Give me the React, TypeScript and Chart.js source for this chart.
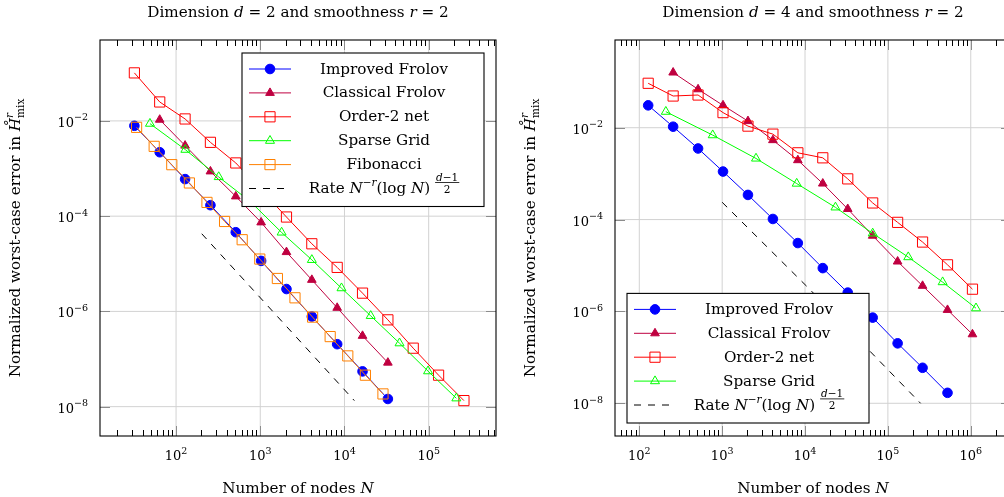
import React, { useEffect, useRef } from "react";
import { Chart, registerables } from "chart.js";
Chart.register(...registerables);

// ---------------- Data: dimension d = 2 ----------------
const d2ImprovedN = [32, 64, 128, 256, 512, 1024, 2048, 4096, 8192, 16384, 32768];
const d2ImprovedErr = [7.9e-3, 2.2e-3, 6.0e-4, 1.7e-4, 4.6e-5, 1.15e-5, 2.95e-6, 7.8e-7, 2.05e-7, 5.5e-8, 1.45e-8];
const d2ClassicalN = [64, 128, 256, 512, 1024, 2048, 4096, 8192, 16384, 32768];
const d2ClassicalErr = [1.06e-2, 3.03e-3, 8.7e-4, 2.6e-4, 7.4e-5, 1.76e-5, 4.6e-6, 1.19e-6, 3.07e-7, 8.4e-8];
const d2Order2N = [32, 64, 128, 256, 512, 1024, 2048, 4096, 8192, 16384, 32768, 65536, 131072, 262144];
const d2Order2Err = [0.102, 2.5e-2, 1.1e-2, 3.55e-3, 1.31e-3, 3.55e-4, 9.6e-5, 2.63e-5, 8.4e-6, 2.42e-6, 6.65e-7, 1.69e-7, 4.58e-8, 1.34e-8];
const d2SparseN = [49, 129, 321, 769, 1793, 4097, 9217, 20481, 45057, 98305, 212993];
const d2SparseErr = [8.77e-3, 2.49e-3, 6.65e-4, 2.0e-4, 4.55e-5, 1.21e-5, 3.08e-6, 8.07e-7, 2.15e-7, 5.56e-8, 1.5e-8];
const d2FibN = [34, 55, 89, 144, 233, 377, 610, 987, 1597, 2584, 4181, 6765, 10946, 17711, 28657];
const d2FibErr = [7.33e-3, 2.92e-3, 1.205e-3, 4.98e-4, 1.945e-4, 7.74e-5, 3.2e-5, 1.256e-5, 4.91e-6, 1.93e-6, 7.59e-7, 2.96e-7, 1.164e-7, 4.58e-8, 1.85e-8];
const d2RateN = [202, 13100];
const d2RateErr = [4.27e-5, 1.34e-8];
const d2XRange = [12.5, 6.3e5];
const d2YRange = [2.42e-9, 0.5];
const d2XTickExp = [2, 3, 4, 5];
const d2YTickExp = [-8, -6, -4, -2];

// ---------------- Data: dimension d = 4 ----------------
const d4ImprovedN = [128, 256, 512, 1024, 2048, 4096, 8192, 16384, 32768, 65536, 131072, 262144, 524288];
const d4ImprovedErr = [3.07e-2, 1.052e-2, 3.53e-3, 1.11e-3, 3.44e-4, 1.03e-4, 3.08e-5, 8.77e-6, 2.57e-6, 7.33e-7, 2.02e-7, 5.93e-8, 1.69e-8];
const d4ClassicalN = [256, 512, 1024, 2048, 4096, 8192, 16384, 32768, 65536, 131072, 262144, 524288, 1048576];
const d4ClassicalErr = [0.159, 6.86e-2, 3.07e-2, 1.393e-2, 5.36e-3, 1.963e-3, 6.08e-4, 1.7e-4, 4.45e-5, 1.22e-5, 3.61e-6, 1.079e-6, 3.18e-7];
const d4Order2N = [128, 256, 512, 1024, 2048, 4096, 8192, 16384, 32768, 65536, 131072, 262144, 524288, 1048576];
const d4Order2Err = [9.27e-2, 4.9e-2, 5.15e-2, 2.13e-2, 1.084e-2, 7.24e-3, 2.84e-3, 2.21e-3, 7.69e-4, 2.3e-4, 8.69e-5, 3.24e-5, 1.035e-5, 3.05e-6];
const d4SparseN = [209, 769, 2561, 7937, 23297, 65537, 176129, 457729, 1157121];
const d4SparseErr = [2.234e-2, 6.89e-3, 2.14e-3, 6.08e-4, 1.845e-4, 5.01e-5, 1.524e-5, 4.35e-6, 1.175e-6];
const d4RateN = [1000, 11100, 248000];
const d4RateErr = [2.38e-4, 3.18e-6, 1.0e-8];
const d4XRange = [50.9, 3.06e6];
const d4YRange = [1.94e-9, 0.812];
const d4XTickExp = [2, 3, 4, 5, 6];
const d4YTickExp = [-8, -6, -4, -2];

const seriesNames = ["Improved Frolov", "Classical Frolov", "Order-2 net", "Sparse Grid", "Fibonacci"];
const smoothness = 2;
const minorMultipliers = [2, 3, 4, 5, 6, 7, 8, 9];

// ---------------- Styles ----------------
type Style = { color: string; point: "circle" | "triangle" | "rect"; r: number; fill: boolean };
const STY: Record<string, Style> = {
  improved: { color: "#0000ff", point: "circle", r: 4.8, fill: true },
  classical: { color: "rgb(191,0,64)", point: "triangle", r: 5, fill: true },
  order2: { color: "#ff0000", point: "rect", r: 7.2, fill: false },
  sparse: { color: "#00ff00", point: "triangle", r: 5.2, fill: false },
  fib: { color: "rgb(255,128,0)", point: "rect", r: 7.2, fill: false },
};
const GRID = "#d2d2d2";
const FONT = '"DejaVu Serif", "Liberation Serif", serif';
const F = (s: number, it = false) => `${it ? "italic " : ""}${s}px ${FONT}`;
const TXT = 15.2;

type Run = { t?: string; f?: string; dy?: number; hold?: boolean; frac?: { num: Run[]; den: Run[] } };

function runW(ctx: CanvasRenderingContext2D, runs: Run[]): number {
  let x = 0, mx = 0;
  for (const r of runs) {
    let w = 0;
    if (r.frac) w = Math.max(runW(ctx, r.frac.num), runW(ctx, r.frac.den)) + 2;
    else { ctx.font = r.f!; w = ctx.measureText(r.t!).width; }
    mx = Math.max(mx, x + w);
    if (!r.hold) x += w;
  }
  return Math.max(x, mx);
}

function drawRuns(ctx: CanvasRenderingContext2D, runs: Run[], x: number, y: number, align: "left" | "center" | "right" = "left") {
  const W = runW(ctx, runs);
  if (align === "center") x -= W / 2;
  else if (align === "right") x -= W;
  for (const r of runs) {
    ctx.textAlign = "left";
    ctx.textBaseline = "alphabetic";
    let w = 0;
    if (r.frac) {
      const nw = runW(ctx, r.frac.num), dw = runW(ctx, r.frac.den);
      w = Math.max(nw, dw) + 2;
      drawRuns(ctx, r.frac.num, x + (w - nw) / 2, y - 12.5);
      drawRuns(ctx, r.frac.den, x + (w - dw) / 2, y - 0.5);
      ctx.fillRect(x, y - 11, w, 0.8);
    } else {
      ctx.font = r.f!;
      ctx.fillText(r.t!, x, y + (r.dy || 0));
      w = ctx.measureText(r.t!).width;
    }
    if (!r.hold) x += w;
  }
}

function drawMarker(ctx: CanvasRenderingContext2D, st: Style, x: number, y: number) {
  ctx.beginPath();
  const r = st.r;
  if (st.point === "circle") ctx.arc(x, y, r, 0, Math.PI * 2);
  else if (st.point === "triangle") {
    ctx.moveTo(x, y - r);
    ctx.lineTo(x + r * Math.sin((2 * Math.PI) / 3), y - r * Math.cos((2 * Math.PI) / 3));
    ctx.lineTo(x + r * Math.sin((4 * Math.PI) / 3), y - r * Math.cos((4 * Math.PI) / 3));
    ctx.closePath();
  } else {
    const s = r * Math.SQRT1_2;
    ctx.rect(x - s, y - s, 2 * s, 2 * s);
  }
  if (st.fill) { ctx.fillStyle = st.color; ctx.fill(); }
  ctx.strokeStyle = st.color;
  ctx.lineWidth = 1;
  ctx.stroke();
}

const expLabel = (e: number) => (e < 0 ? "\u2212" + Math.abs(e) : String(e));

type Panel = {
  dim: number;
  xRange: number[];
  yRange: number[];
  xTickExp: number[];
  yTickExp: number[];
  series: { name: string; n: number[]; err: number[]; st: Style }[];
  rateN: number[];
  rateErr: number[];
  legendPos: "ne" | "sw";
};

const panelD2: Panel = {
  dim: 2, xRange: d2XRange, yRange: d2YRange, xTickExp: d2XTickExp, yTickExp: d2YTickExp,
  series: [
    { name: seriesNames[0], n: d2ImprovedN, err: d2ImprovedErr, st: STY.improved },
    { name: seriesNames[1], n: d2ClassicalN, err: d2ClassicalErr, st: STY.classical },
    { name: seriesNames[2], n: d2Order2N, err: d2Order2Err, st: STY.order2 },
    { name: seriesNames[3], n: d2SparseN, err: d2SparseErr, st: STY.sparse },
    { name: seriesNames[4], n: d2FibN, err: d2FibErr, st: STY.fib },
  ],
  rateN: d2RateN, rateErr: d2RateErr, legendPos: "ne",
};
const panelD4: Panel = {
  dim: 4, xRange: d4XRange, yRange: d4YRange, xTickExp: d4XTickExp, yTickExp: d4YTickExp,
  series: [
    { name: seriesNames[0], n: d4ImprovedN, err: d4ImprovedErr, st: STY.improved },
    { name: seriesNames[1], n: d4ClassicalN, err: d4ClassicalErr, st: STY.classical },
    { name: seriesNames[2], n: d4Order2N, err: d4Order2Err, st: STY.order2 },
    { name: seriesNames[3], n: d4SparseN, err: d4SparseErr, st: STY.sparse },
  ],
  rateN: d4RateN, rateErr: d4RateErr, legendPos: "sw",
};

function makePlugin(p: Panel) {
  return {
    id: "panelDeco",
    beforeDatasetsDraw(chart: any) {
      const { ctx, chartArea: a, scales } = chart;
      ctx.save();
      ctx.strokeStyle = GRID;
      ctx.lineWidth = 1;
      for (const e of p.xTickExp) {
        const x = scales.x.getPixelForValue(Math.pow(10, e));
        ctx.beginPath(); ctx.moveTo(x, a.top); ctx.lineTo(x, a.bottom); ctx.stroke();
      }
      for (const e of p.yTickExp) {
        const y = scales.y.getPixelForValue(Math.pow(10, e));
        ctx.beginPath(); ctx.moveTo(a.left, y); ctx.lineTo(a.right, y); ctx.stroke();
      }
      ctx.restore();
    },
    afterDraw(chart: any) {
      const { ctx, chartArea: a, scales } = chart;
      const sx = scales.x, sy = scales.y;
      ctx.save();
      ctx.setLineDash([]);
      // minor x ticks (2..9 times each decade)
      const k0 = Math.floor(Math.log10(p.xRange[0]));
      const k1 = Math.ceil(Math.log10(p.xRange[1]));
      ctx.fillStyle = "#000";
      for (let k = k0; k <= k1; k++) {
        for (const m of minorMultipliers) {
          const v = m * Math.pow(10, k);
          if (v <= p.xRange[0] || v >= p.xRange[1]) continue;
          const x = Math.round(sx.getPixelForValue(v));
          ctx.fillRect(x, a.bottom - 6, 1, 6);
          ctx.fillRect(x, a.top, 1, 6);
        }
      }
      // major ticks
      ctx.fillStyle = "#8c8c8c";
      for (const e of p.xTickExp) {
        const x = Math.round(sx.getPixelForValue(Math.pow(10, e)));
        ctx.fillRect(x, a.bottom - 10, 1, 10);
        ctx.fillRect(x, a.top, 1, 10);
      }
      for (const e of p.yTickExp) {
        const y = Math.round(sy.getPixelForValue(Math.pow(10, e)));
        ctx.fillRect(a.left, y, 10, 1);
        ctx.fillRect(a.right - 10, y, 10, 1);
      }
      // frame
      ctx.strokeStyle = "#000";
      ctx.lineWidth = 1.1;
      ctx.strokeRect(a.left, a.top, a.right - a.left, a.bottom - a.top);

      // legend
      const rows = p.series.length + 1;
      const bw = 242, rowH = 23.9;
      const bh = 16 + (rows - 1) * rowH + 18;
      const bx = p.legendPos === "ne" ? a.right - 12 - bw : a.left + 12;
      const by = p.legendPos === "ne" ? a.top + 13 : a.bottom - 13 - bh;
      ctx.fillStyle = "#fff";
      ctx.fillRect(bx, by, bw, bh);
      ctx.strokeStyle = "#000";
      ctx.lineWidth = 1.1;
      ctx.strokeRect(bx, by, bw, bh);
      ctx.fillStyle = "#000";
      p.series.forEach((s, i) => {
        const y = by + 16 + i * rowH;
        ctx.strokeStyle = s.st.color;
        ctx.lineWidth = 1;
        ctx.beginPath(); ctx.moveTo(bx + 7, y); ctx.lineTo(bx + 49, y); ctx.stroke();
        drawMarker(ctx, s.st, bx + 28, y);
        ctx.fillStyle = "#000";
        drawRuns(ctx, [{ t: s.name, f: F(TXT) }], bx + 142, y + 4.5, "center");
      });
      {
        const y = by + 16 + p.series.length * rowH;
        ctx.strokeStyle = "#000";
        ctx.lineWidth = 1;
        ctx.setLineDash([7, 7]);
        ctx.beginPath(); ctx.moveTo(bx + 7, y); ctx.lineTo(bx + 45, y); ctx.stroke();
        ctx.setLineDash([]);
        ctx.fillStyle = "#000";
        drawRuns(ctx, [
          { t: "Rate ", f: F(TXT) },
          { t: "N", f: F(TXT, true) },
          { t: "\u2212", f: F(10.5), dy: -7 },
          { t: "r", f: F(10.5, true), dy: -7 },
          { t: "(log ", f: F(TXT) },
          { t: "N", f: F(TXT, true) },
          { t: ") ", f: F(TXT) },
          { frac: { num: [{ t: "d", f: F(10.5, true) }, { t: "\u22121", f: F(10.5) }], den: [{ t: "2", f: F(10.5) }] } },
        ], bx + 142, y + 4.5, "center");
      }

      // tick labels
      ctx.fillStyle = "#000";
      for (const e of p.xTickExp) {
        const x = sx.getPixelForValue(Math.pow(10, e));
        drawRuns(ctx, [{ t: "10", f: F(13) }, { t: expLabel(e), f: F(9.5), dy: -6.5 }], x, a.bottom + 24, "center");
      }
      for (const e of p.yTickExp) {
        const y = sy.getPixelForValue(Math.pow(10, e));
        drawRuns(ctx, [{ t: "10", f: F(13) }, { t: expLabel(e), f: F(9.5), dy: -6.5 }], a.left - 12, y + 6, "right");
      }
      const cx = (a.left + a.right) / 2;
      // title
      drawRuns(ctx, [
        { t: "Dimension ", f: F(TXT) },
        { t: "d", f: F(TXT, true) },
        { t: " = " + p.dim + " and smoothness ", f: F(TXT) },
        { t: "r", f: F(TXT, true) },
        { t: " = " + smoothness, f: F(TXT) },
      ], cx, 17, "center");
      // x title
      drawRuns(ctx, [{ t: "Number of nodes ", f: F(TXT) }, { t: "N", f: F(TXT, true) }], cx, a.bottom + 57, "center");
      // y title
      ctx.save();
      ctx.translate(a.left - 80, (a.top + a.bottom) / 2);
      ctx.rotate(-Math.PI / 2);
      drawRuns(ctx, [
        { t: "Normalized worst-case error in ", f: F(TXT) },
        { t: "H\u030A", f: F(TXT, true) },
        { t: "r", f: F(10.5, true), dy: -7.5, hold: true },
        { t: "mix", f: F(10.5), dy: 3.5 },
      ], 0, 0, "center");
      ctx.restore();
      ctx.restore();
    },
  };
}

function PanelChart({ p, left, width, pad }: { p: Panel; left: number; width: number; pad: any }) {
  const ref = useRef<HTMLCanvasElement>(null);
  useEffect(() => {
    const n = p.series.length + 1;
    const datasets: any[] = p.series.map((s, i) => ({
      label: s.name,
      data: s.n.map((x, j) => ({ x, y: s.err[j] })),
      borderColor: s.st.color,
      backgroundColor: s.st.fill ? s.st.color : "rgba(0,0,0,0)",
      borderWidth: 1,
      pointStyle: s.st.point,
      pointRadius: s.st.r,
      pointBorderWidth: 1,
      pointBackgroundColor: s.st.fill ? s.st.color : "rgba(0,0,0,0)",
      pointBorderColor: s.st.color,
      showLine: true,
      fill: false,
      tension: 0,
      order: n - i,
    }));
    datasets.push({
      label: "Rate",
      data: p.rateN.map((x, j) => ({ x, y: p.rateErr[j] })),
      borderColor: "#000",
      borderWidth: 1,
      borderDash: [7, 7],
      pointRadius: 0,
      showLine: true,
      fill: false,
      tension: 0,
      order: 0,
    });
    const axis = (min: number, max: number) => ({
      type: "logarithmic" as const,
      min, max,
      ticks: { display: false },
      grid: { display: false, drawTicks: false },
      border: { display: false },
    });
    const chart = new Chart(ref.current!, {
      type: "line",
      data: { datasets },
      options: {
        responsive: false,
        animation: false,
        layout: { padding: pad, autoPadding: false },
        plugins: { legend: { display: false }, tooltip: { enabled: false } },
        scales: { x: axis(p.xRange[0], p.xRange[1]), y: axis(p.yRange[0], p.yRange[1]) },
      } as any,
      plugins: [makePlugin(p)],
    });
    return () => chart.destroy();
  }, []);
  return (
    <canvas
      ref={ref}
      width={width}
      height={497}
      style={{ position: "absolute", left, top: 0, width, height: 497 }}
    />
  );
}

export default function App() {
  return (
    <div style={{ position: "fixed", left: 0, top: 0, width: 1004, height: 497, overflow: "hidden", background: "#fff" }}>
      <PanelChart p={panelD2} left={0} width={504} pad={{ left: 100, top: 40, right: 8, bottom: 61 }} />
      <PanelChart p={panelD4} left={504} width={520} pad={{ left: 111, top: 40, right: 13, bottom: 61 }} />
    </div>
  );
}
